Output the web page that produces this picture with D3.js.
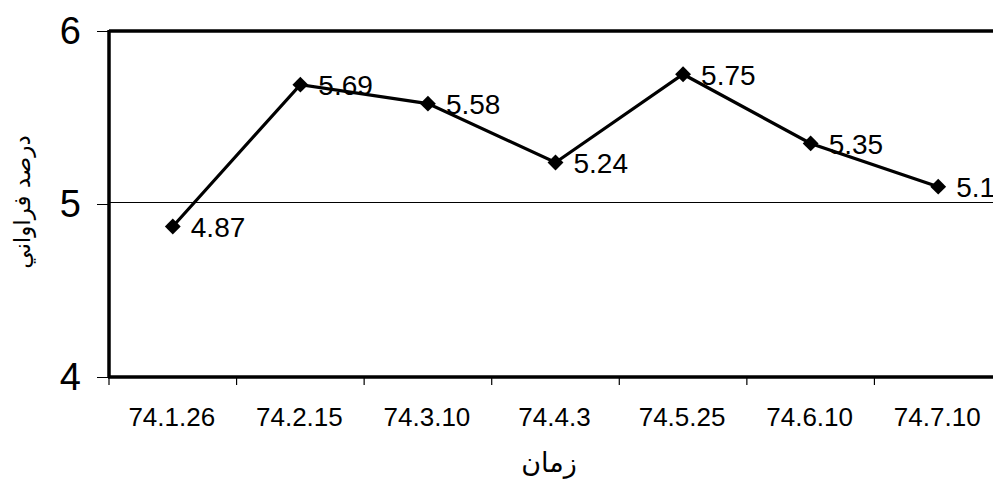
<!DOCTYPE html>
<html>
<head>
<meta charset="utf-8">
<script src="https://cdn.jsdelivr.net/npm/d3@7"></script>
<style>
  html, body { margin: 0; padding: 0; background: #fff; }
  svg { display: block; }
  text { font-family: "Liberation Sans", Arial, "DejaVu Sans", sans-serif; fill: #000; }
</style>
</head>
<body>
<svg id="chart" width="993" height="481"></svg>
<script>
const categories = ["74.1.26", "74.2.15", "74.3.10", "74.4.3", "74.5.25", "74.6.10", "74.7.10"];
const values = [4.87, 5.69, 5.58, 5.24, 5.75, 5.35, 5.1];
const yTicks = [4, 5, 6];
const yTitle = "درصد فراواني";
const xTitle = "زمان";

const svg = d3.select("#chart");
const W = 993, H = 481;
const mLeft = 109, mRight = 1002, mTop = 31, mBottom = 377;

const x = d3.scaleBand().domain(categories).range([mLeft, mRight]).padding(0);
const y = d3.scaleLinear().domain([4, 6]).range([mBottom, mTop]);

// gridline at 5
svg.append("g").selectAll("line").data(yTicks.filter(t => t !== 4 && t !== 6)).join("line")
  .attr("x1", mLeft).attr("x2", W).attr("y1", d => y(d) - 1.5).attr("y2", d => y(d) - 1.5)
  .attr("stroke", "#000").attr("stroke-width", 1).attr("shape-rendering", "crispEdges");

// top border
svg.append("line").attr("x1", mLeft).attr("x2", W).attr("y1", y(6)).attr("y2", y(6))
  .attr("stroke", "#000").attr("stroke-width", 3.5);

// y axis
const yAxis = svg.append("g").attr("transform", `translate(${mLeft},0)`)
  .call(d3.axisLeft(y).tickValues(yTicks).tickSize(12).tickPadding(16).tickFormat(d3.format("d")));
yAxis.select(".domain").attr("stroke", "#000").attr("stroke-width", 3.5).attr("d", `M0,${mTop-1}V${mBottom+1}`);
yAxis.selectAll(".tick line").attr("stroke", "#000").attr("stroke-width", 1);
yAxis.selectAll(".tick text").attr("font-size", 38).attr("dy", "0.34em")
  .style("font-family", '"Liberation Sans", Arial, sans-serif');

// x axis
const xAxis = svg.append("g").attr("transform", `translate(0,${mBottom})`)
  .call(d3.axisBottom(x).tickSize(0).tickPadding(0));
xAxis.select(".domain").attr("stroke", "#000").attr("stroke-width", 3.5).attr("d", `M${mLeft-1},0H${W}`);
xAxis.selectAll(".tick text").attr("font-size", 26).attr("y", 49).attr("dy", 0).attr("dx", -1);
// boundary ticks between categories
const bounds = categories.map(c => x(c));
svg.append("g").selectAll("line").data(bounds).join("line")
  .attr("x1", d => d).attr("x2", d => d).attr("y1", mBottom).attr("y2", mBottom + 8)
  .attr("stroke", "#000").attr("stroke-width", 1.2);

// line
const cx = d => x(d.c) + x.bandwidth() / 2;
const data = categories.map((c, i) => ({ c, v: values[i] }));
svg.append("path").datum(data)
  .attr("fill", "none").attr("stroke", "#000").attr("stroke-width", 3.2)
  .attr("d", d3.line().x(cx).y(d => y(d.v)));

// markers
svg.append("g").selectAll("path").data(data).join("path")
  .attr("transform", d => `translate(${cx(d)},${y(d.v)})`)
  .attr("d", d3.symbol().type(d3.symbolDiamond2).size(160))
  .attr("fill", "#000");

// labels
svg.append("g").selectAll("text").data(data).join("text")
  .attr("x", d => cx(d) + 18).attr("y", d => y(d.v)).attr("dy", "0.38em")
  .attr("font-size", 28)
  .text(d => d3.format("")(d.v));

// axis titles
svg.append("text").attr("transform", `translate(30,${(mTop + mBottom) / 2 - 2}) rotate(-90)`)
  .attr("text-anchor", "middle").attr("font-size", 23)
  .style("font-family", '"DejaVu Sans", sans-serif')
  .text(yTitle);
svg.append("text").attr("x", 549).attr("y", 472).attr("text-anchor", "middle")
  .attr("font-size", 27).style("font-family", '"DejaVu Sans", sans-serif')
  .text(xTitle);
</script>
</body>
</html>
